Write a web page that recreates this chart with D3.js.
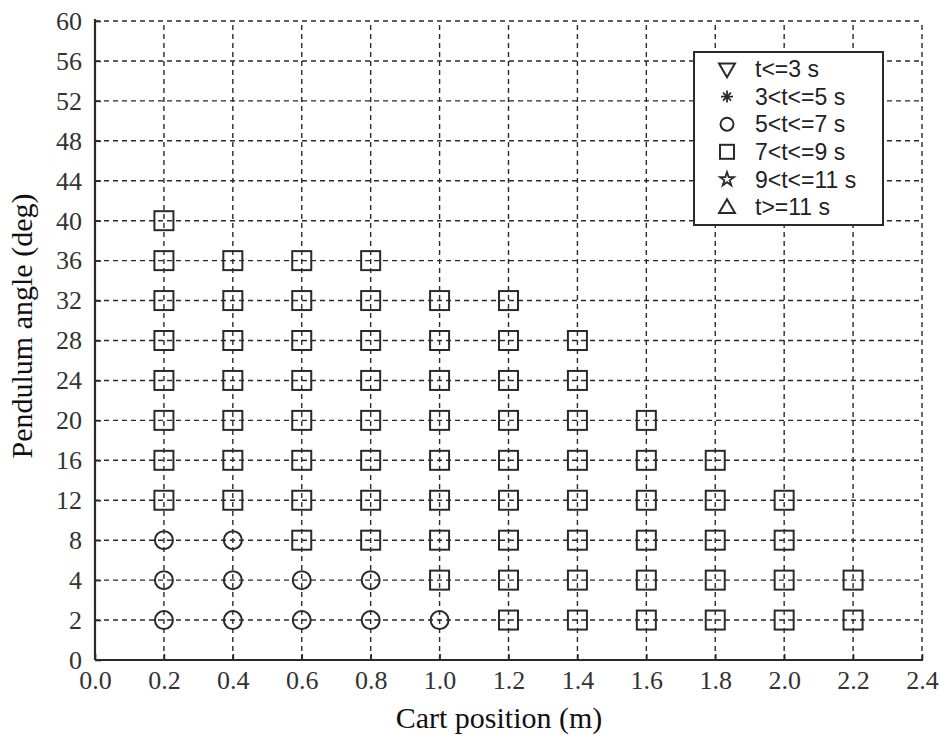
<!DOCTYPE html>
<html><head><meta charset="utf-8">
<script src="https://cdn.jsdelivr.net/npm/d3@7"></script>
<style>
html,body{margin:0;padding:0;background:#fff;}
svg{display:block;}
</style></head>
<body>
<svg id="chart" width="948" height="738"></svg>
<script>
// ---- data ----
const xTicks = [0.0,0.2,0.4,0.6,0.8,1.0,1.2,1.4,1.6,1.8,2.0,2.2,2.4];
const yTicks = [0,2,4,8,12,16,20,24,28,32,36,40,44,48,52,56,60];
const xLabel = "Cart position (m)";
const yLabel = "Pendulum angle (deg)";
const legendLabels = ["t<=3 s","3<t<=5 s","5<t<=7 s","7<t<=9 s","9<t<=11 s","t>=11 s"];
const legendSymbols = ["triangleDown","asterisk","circle","square","star","triangleUp"];

// 5<t<=7 s (circles)
const circlePoints = [
  [0.2,2],[0.4,2],[0.6,2],[0.8,2],[1.0,2],
  [0.2,4],[0.4,4],[0.6,4],[0.8,4],
  [0.2,8],[0.4,8]
];
// 7<t<=9 s (squares)
const squarePoints = [
  [1.2,2],[1.4,2],[1.6,2],[1.8,2],[2.0,2],[2.2,2],
  [1.0,4],[1.2,4],[1.4,4],[1.6,4],[1.8,4],[2.0,4],[2.2,4],
  [0.6,8],[0.8,8],[1.0,8],[1.2,8],[1.4,8],[1.6,8],[1.8,8],[2.0,8],
  [0.2,12],[0.4,12],[0.6,12],[0.8,12],[1.0,12],[1.2,12],[1.4,12],[1.6,12],[1.8,12],[2.0,12],
  [0.2,16],[0.4,16],[0.6,16],[0.8,16],[1.0,16],[1.2,16],[1.4,16],[1.6,16],[1.8,16],
  [0.2,20],[0.4,20],[0.6,20],[0.8,20],[1.0,20],[1.2,20],[1.4,20],[1.6,20],
  [0.2,24],[0.4,24],[0.6,24],[0.8,24],[1.0,24],[1.2,24],[1.4,24],
  [0.2,28],[0.4,28],[0.6,28],[0.8,28],[1.0,28],[1.2,28],[1.4,28],
  [0.2,32],[0.4,32],[0.6,32],[0.8,32],[1.0,32],[1.2,32],
  [0.2,36],[0.4,36],[0.6,36],[0.8,36],
  [0.2,40]
];

// ---- layout ----
const L = 95, R = 922, T = 21, B = 660;
const svg = d3.select("#chart");
const x = d3.scaleLinear().domain([0,2.4]).range([L,R]);
const y = d3.scalePoint().domain(yTicks).range([B,T]);
const ink = "#2a2a2a";

// grid
const grid = svg.append("g").attr("stroke", ink).attr("stroke-width",1.4).attr("stroke-dasharray","5,4");
grid.selectAll(".gx").data(xTicks.slice(1)).join("line")
  .attr("x1", d=>x(d)).attr("x2", d=>x(d)).attr("y1", B).attr("y2", T);
grid.selectAll(".gy").data(yTicks.slice(1)).join("line")
  .attr("y1", d=>y(d)).attr("y2", d=>y(d)).attr("x1", L).attr("x2", R);

// axes
const xAxis = d3.axisBottom(x).tickValues(xTicks).tickFormat(d3.format(".1f")).tickSize(-6).tickPadding(11);
const yAxis = d3.axisLeft(y).tickSize(-6).tickPadding(13);
const gx = svg.append("g").attr("transform",`translate(0,${B})`).call(xAxis);
const gy = svg.append("g").attr("transform",`translate(${L},0)`).call(yAxis);
[gx,gy].forEach(g=>{
  g.select(".domain").attr("stroke", ink).attr("stroke-width",2.2);
  g.selectAll(".tick line").attr("stroke", ink).attr("stroke-width",1.6);
  g.selectAll(".tick text").attr("fill","#333").style("font-family","'Liberation Serif', serif").style("font-size","26px");
});
gy.select(".domain").attr("d", `M0,${B}V${T-2}`);
gx.select(".domain").attr("d", `M0,0H${R-L+1}`).attr("transform",`translate(${L},0)`);
gx.selectAll(".tick text").attr("dy","0.71em");

// markers
const mk = svg.append("g").attr("fill","none").attr("stroke", ink).attr("stroke-width",2);
mk.selectAll("rect").data(squarePoints).join("rect")
  .attr("x", d=>x(d[0])-9.5).attr("y", d=>y(d[1])-9.5).attr("width",19).attr("height",19);
mk.selectAll("circle").data(circlePoints).join("circle")
  .attr("cx", d=>x(d[0])).attr("cy", d=>y(d[1])).attr("r",9);

// axis titles
svg.append("text").attr("x", 499).attr("y", 728).attr("text-anchor","middle")
  .style("font-family","'Liberation Serif', serif").style("font-size","30px").attr("fill","#111").text(xLabel);
svg.append("text").attr("transform","translate(32,326) rotate(-90)").attr("text-anchor","middle")
  .style("font-family","'Liberation Serif', serif").style("font-size","30px").attr("fill","#111").text(yLabel);

// legend
const lg = svg.append("g");
lg.append("rect").attr("x",694).attr("y",52).attr("width",189).attr("height",173)
  .attr("fill","#fff").attr("stroke", ink).attr("stroke-width",2);
const rowY = d3.scaleLinear().domain([0,5]).range([69,207]);
legendSymbols.forEach((s,i)=>{
  const cy = rowY(i), cx = 727;
  const g = lg.append("g").attr("transform",`translate(${cx},${cy})`);
  if (s === "triangleDown") {
    g.append("path").attr("d", d3.symbol(d3.symbolTriangle,110)()).attr("transform","translate(0,-1) rotate(180)")
      .attr("fill","none").attr("stroke",ink).attr("stroke-width",2);
  } else if (s === "asterisk") {
    g.append("path").attr("d", d3.symbol(d3.symbolCross,0)()).attr("fill","none");
    g.append("path").attr("d","M-6,0H6M0,-6V6M-4,-4L4,4M-4,4L4,-4").attr("fill","none").attr("stroke",ink).attr("stroke-width",1.8);
  } else if (s === "circle") {
    g.append("circle").attr("r",6.5).attr("fill","none").attr("stroke",ink).attr("stroke-width",2);
  } else if (s === "square") {
    g.append("rect").attr("x",-7).attr("y",-7).attr("width",14).attr("height",14).attr("fill","none").attr("stroke",ink).attr("stroke-width",2);
  } else if (s === "star") {
    g.append("path").attr("d", d3.symbol(d3.symbolStar,60)()).attr("fill","none").attr("stroke",ink).attr("stroke-width",1.8);
  } else {
    g.append("path").attr("d", d3.symbol(d3.symbolTriangle,110)()).attr("transform","translate(0,1.5)")
      .attr("fill","none").attr("stroke",ink).attr("stroke-width",2);
  }
  lg.append("text").attr("x",755).attr("y",cy).attr("dy","0.36em")
    .style("font-family","'Liberation Sans', Arial, sans-serif").style("font-size","23px").attr("fill","#222")
    .text(legendLabels[i]);
});
</script>
</body></html>
